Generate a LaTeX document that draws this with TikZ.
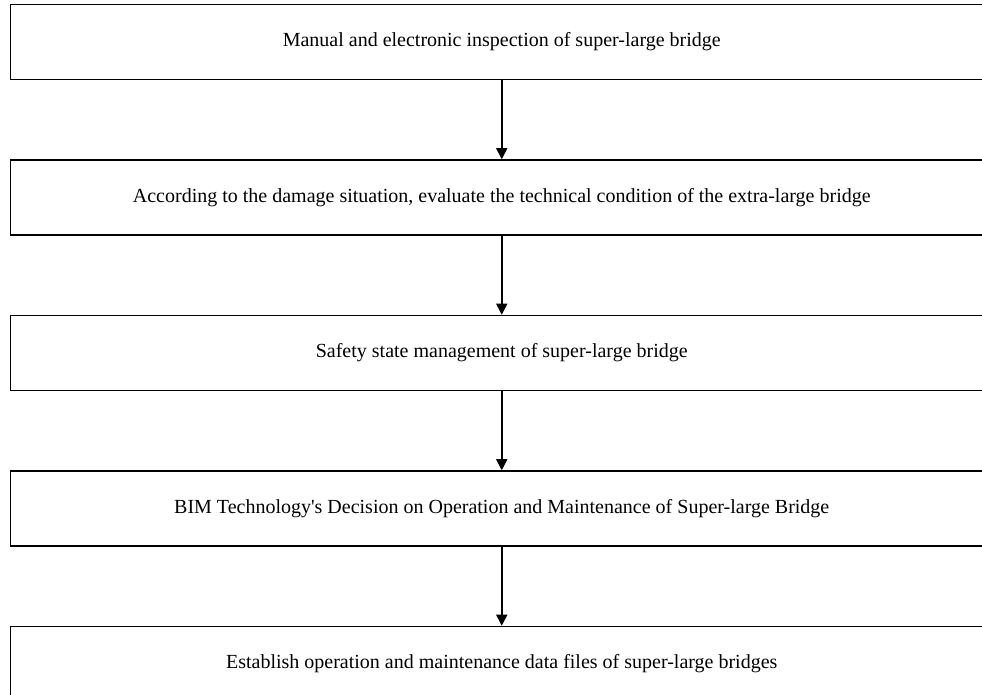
\documentclass[tikz,border=0pt]{standalone}
\usepackage{fontspec}
\setmainfont{Liberation Serif}
\usetikzlibrary{arrows.meta,positioning}

\begin{document}
\begin{tikzpicture}[x=0.5pt,y=-0.5pt,node distance=39.5pt,
  stage/.style={draw,line width=0.75pt,minimum width=491.25pt,minimum height=37.5pt,
    inner sep=0pt,font=\fontsize{10}{12}\selectfont},
  flow/.style={line width=0.75pt,-{Triangle[width=5.5pt,length=5.5pt]}}]
  \useasboundingbox (0,0) rectangle (982,695);
  \node[stage] (s_1) at (501.75,42)  {Manual and electronic inspection of super-large bridge};
  \node[stage] (s_2) [below=of s_1]  {According to the damage situation, evaluate the technical condition of the extra-large bridge};
  \node[stage] (s_3) [below=of s_2]  {Safety state management of super-large bridge};
  \node[stage] (s_4) [below=of s_3]  {BIM Technology\textquotesingle s Decision on Operation and Maintenance of Super-large Bridge};
  \node[stage] (s_5) [below=of s_4]  {Establish operation and maintenance data files of super-large bridges};
  \foreach \a/\b in {1/2,2/3,3/4,4/5}
    \draw[flow] (s_\a) -- (s_\b);
\end{tikzpicture}
\end{document}
